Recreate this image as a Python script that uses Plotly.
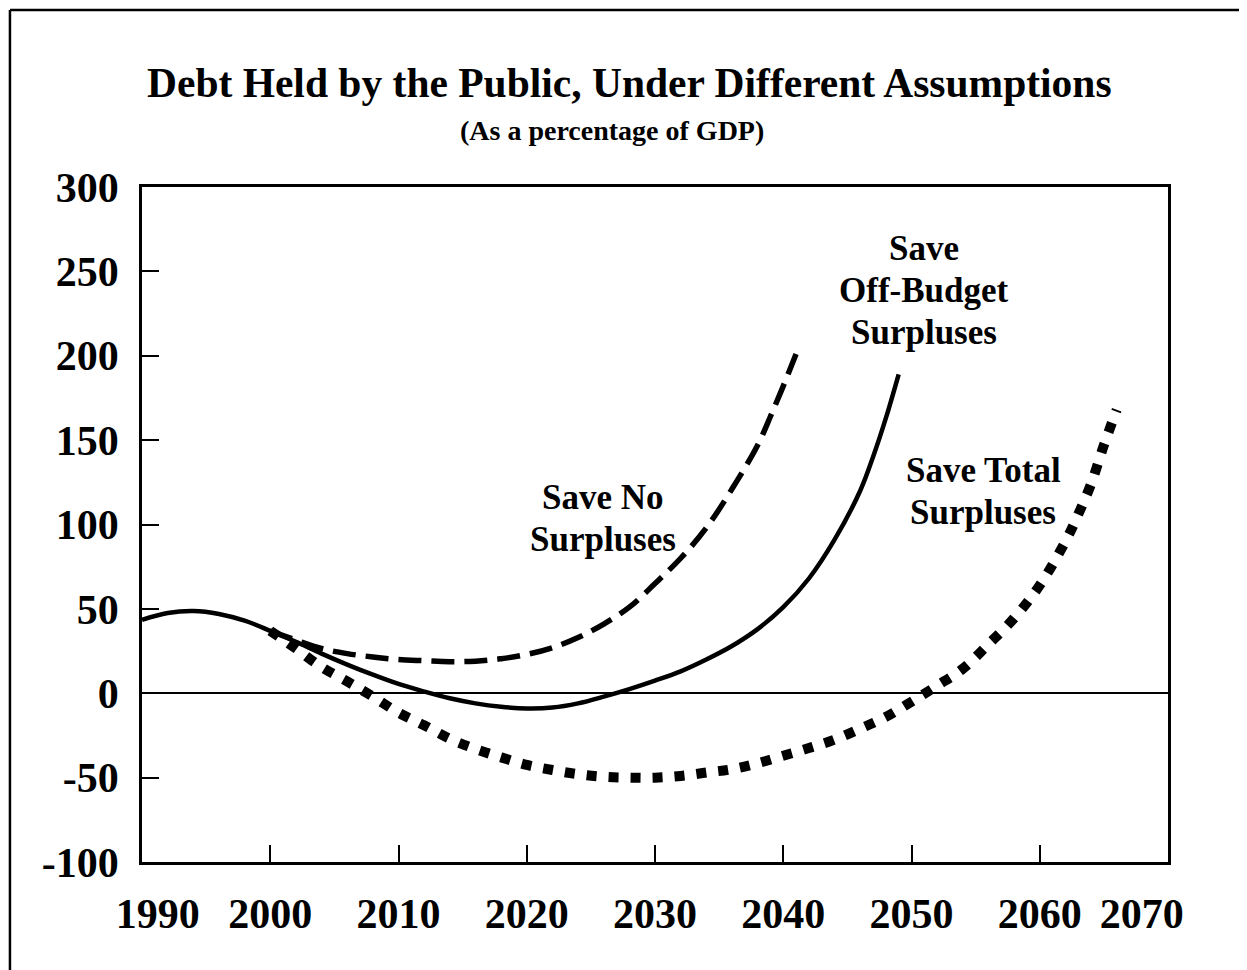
import plotly.graph_objects as go

# ---- data (percent of GDP) ----
years_offbudget = [1990, 1992, 1994, 1996, 1998, 2000, 2002, 2004, 2006, 2008, 2010, 2012,
                   2014, 2016, 2018, 2020, 2022, 2024, 2026, 2028, 2030, 2032, 2034, 2036,
                   2038, 2040, 2042, 2044, 2046, 2047, 2048, 2049]
save_offbudget = [43.5, 47.5, 48.7, 47, 43, 37, 30.5, 23.5, 17, 11, 5.5, 1,
                  -3, -6, -8, -9, -8.5, -6, -2, 2.5, 7.5, 13, 20, 28,
                  38, 51, 68, 91, 120, 140, 163, 189]

years_nosave = [2000, 2002, 2004, 2006, 2008, 2010, 2012, 2014, 2016, 2018, 2020, 2022,
                2024, 2026, 2028, 2030, 2032, 2034, 2036, 2038, 2039, 2040, 2041]
save_none = [37, 31.5, 26.5, 23.5, 21.5, 20, 19.3, 18.7, 19, 20.5, 23, 27,
             33, 41, 51, 65, 80, 98, 121, 147, 164, 182, 201]

years_total = [2000, 2002, 2004, 2006, 2008, 2010, 2012, 2014, 2016, 2018, 2020, 2022,
               2024, 2026, 2028, 2030, 2032, 2034, 2036, 2038, 2040, 2042, 2044, 2046,
               2048, 2050, 2052, 2054, 2056, 2058, 2060, 2062, 2063, 2064, 2065, 2066]
save_total = [37, 26.5, 15.5, 7, -2, -11.5, -19, -27, -33, -38, -42.5, -45.5,
              -48, -49.5, -50, -50, -49, -47, -45, -41.5, -37, -32.5, -27.5, -21,
              -14, -5, 4.5, 14.5, 29, 44.5, 64, 90, 106, 124, 147, 168]

x_ticks = [1990, 2000, 2010, 2020, 2030, 2040, 2050, 2060, 2070]
y_ticks = [-100, -50, 0, 50, 100, 150, 200, 250, 300]

labels = [
    (["Save No", "Surpluses"], 2025.95, 103.7),
    (["Save", "Off-Budget", "Surpluses"], 2051.0, 238.5),
    (["Save Total", "Surpluses"], 2055.6, 119.5),
]

FONT = "Liberation Serif"
LINE_GAP = 42
NB = "\u00a0"

fig = go.Figure()
fig.add_trace(go.Scatter(x=years_nosave, y=save_none, mode="lines",
                         line=dict(color="black", width=5.5, dash="23px,10px", shape="spline"),
                         name="Save No Surpluses"))
fig.add_trace(go.Scatter(x=years_total, y=save_total, mode="lines",
                         line=dict(color="black", width=10, dash="10px,12px", shape="spline"),
                         name="Save Total Surpluses"))
fig.add_trace(go.Scatter(x=years_offbudget, y=save_offbudget, mode="lines",
                         line=dict(color="black", width=4.5, shape="spline"),
                         name="Save Off-Budget Surpluses"))

for lines, x, y in labels:
    n = len(lines)
    for i, line in enumerate(lines):
        fig.add_annotation(x=x, y=y, xref="x", yref="y", text="<b>%s</b>" % line,
                           showarrow=False, font=dict(family=FONT, size=35, color="black"),
                           xanchor="center", yanchor="middle",
                           yshift=-(i - (n - 1) / 2) * LINE_GAP)

fig.add_annotation(x=0.4756, y=1.154, xref="paper", yref="paper",
                   text="<b>Debt Held by the Public, Under Different Assumptions</b>",
                   showarrow=False, font=dict(family=FONT, size=41.5, color="black"),
                   xanchor="center", yanchor="middle")
fig.add_annotation(x=0.458, y=1.083, xref="paper", yref="paper",
                   text="<b>(As a percentage of GDP)</b>",
                   showarrow=False, font=dict(family=FONT, size=28, color="black"),
                   xanchor="center", yanchor="middle")

# outer frame (left and top edges)
fig.add_shape(type="line", xref="paper", yref="paper", x0=-0.1287, x1=-0.1287, y0=1.2622, y1=-0.2,
              line=dict(color="black", width=2.5))
fig.add_shape(type="line", xref="paper", yref="paper", x0=-0.1287, x1=1.1, y0=1.2622, y1=1.2622,
              line=dict(color="black", width=2.5))

x_text = []
for v in x_ticks:
    t = "<b>%d</b>" % v
    if v == x_ticks[0]:
        t = NB * 3 + t
    elif v == x_ticks[-1]:
        t = t + NB * 5
    x_text.append(t)

fig.update_layout(
    width=1247, height=970,
    margin=dict(l=134, r=87, t=179, b=116),
    paper_bgcolor="white", plot_bgcolor="white",
    showlegend=False,
    font=dict(family=FONT, color="black"),
)
fig.update_xaxes(range=[1990, 2070], tickvals=x_ticks, ticktext=x_text,
                 ticks="inside", ticklen=17, tickwidth=2, tickcolor="black",
                 showline=True, linewidth=2.5, linecolor="black", mirror=True,
                 showgrid=False, zeroline=False,
                 tickfont=dict(family=FONT, size=42, color="black"), ticklabelstandoff=13)
fig.update_yaxes(range=[-100, 300], tickvals=y_ticks, ticktext=["<b>%d</b>" % v for v in y_ticks],
                 ticks="inside", ticklen=17, tickwidth=2, tickcolor="black",
                 showline=True, linewidth=2.5, linecolor="black", mirror=True,
                 showgrid=False, zeroline=True, zerolinewidth=2, zerolinecolor="black",
                 tickfont=dict(family=FONT, size=42, color="black"), ticklabelstandoff=12)

fig.write_html("out.html")
